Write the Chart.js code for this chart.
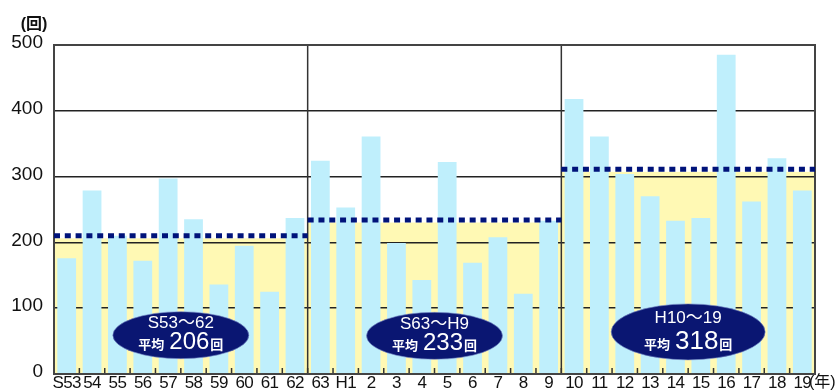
<!DOCTYPE html>
<html>
<head>
<meta charset="utf-8">
<script src="https://cdn.jsdelivr.net/npm/chart.js@4.4.1/dist/chart.umd.min.js"></script>
<style>
  html, body { margin: 0; padding: 0; background: #fff; }
  #wrap { width: 840px; height: 391px; }
</style>
</head>
<body>
<div id="wrap"><canvas id="chart" width="840" height="391"></canvas></div>
<script>
// yearly counts S53..H19 (回)
const years = ["S53", "54", "55", "56", "57", "58", "59", "60", "61", "62",
  "63", "H1", "2", "3", "4", "5", "6", "7", "8", "9",
  "10", "11", "12", "13", "14", "15", "16", "17", "18", "19"];
const counts = [176, 279, 210, 172, 297, 235, 136, 195, 125, 237,
  324, 253, 361, 199, 143, 322, 169, 208, 122, 233,
  418, 361, 304, 270, 233, 237, 485, 262, 328, 279];

// three 10-year periods
const periodNames = ["S53～62", "S63～H9", "H10～19"];
const periodAverages = [206, 233, 318];
const periodStarts = [0, 10, 20];
const periodSize = 10;
const avgLineLevels = [210, 234, 311];   // where the dotted line sits
const badgeLevels = [59, 58, 64];        // badge centre on the y scale

const yMax = 500;
const yStep = 100;

const FONT = "'Liberation Sans', Arial, 'Noto Sans CJK JP', sans-serif";
const NAVY = "#00137a";

const edgesOf = (x, p) => {
  const s = periodStarts[p];
  const half = (x.getPixelForValue(1) - x.getPixelForValue(0)) / 2;
  return [x.getPixelForValue(s) - half, x.getPixelForValue(s + periodSize - 1) + half];
};

const decorPlugin = {
  id: "decor",
  beforeDraw(chart) {
    const { ctx, chartArea: a, scales: { x, y } } = chart;
    ctx.save();
    ctx.fillStyle = "#fff9b4";
    periodStarts.forEach((s, p) => {
      const [l, r] = edgesOf(x, p);
      const top = y.getPixelForValue(avgLineLevels[p]) + 2.5;
      ctx.fillRect(l, top, r - l, a.bottom - top);
    });
    ctx.restore();
  },
  afterDatasetsDraw(chart) {
    const { ctx, chartArea: a, scales: { x, y } } = chart;
    ctx.save();

    // period dividers
    ctx.strokeStyle = "#333";
    ctx.lineWidth = 1.5;
    periodStarts.slice(1).forEach((s, i) => {
      const [l] = edgesOf(x, i + 1);
      ctx.beginPath();
      ctx.moveTo(l, a.top);
      ctx.lineTo(l, a.bottom);
      ctx.stroke();
    });
    // small ticks at category edges
    const half = (x.getPixelForValue(1) - x.getPixelForValue(0)) / 2;
    years.forEach((_, i) => {
      const px = x.getPixelForValue(i) + half;
      ctx.beginPath();
      ctx.moveTo(px, a.bottom);
      ctx.lineTo(px, a.bottom - 6);
      ctx.stroke();
    });
    // frame
    ctx.lineWidth = 2;
    ctx.strokeStyle = "#444";
    ctx.strokeRect(a.left, a.top, a.right - a.left, a.bottom - a.top);

    // dotted average lines
    ctx.strokeStyle = NAVY;
    ctx.lineWidth = 5;
    ctx.setLineDash([6, 4.8]);
    periodStarts.forEach((s, p) => {
      const [l, r] = edgesOf(x, p);
      const py = y.getPixelForValue(avgLineLevels[p]);
      ctx.beginPath();
      ctx.moveTo(l, py);
      ctx.lineTo(r, py);
      ctx.stroke();
    });
    ctx.setLineDash([]);

    // badges
    periodStarts.forEach((s, p) => {
      const cx = (x.getPixelForValue(s + 4) + x.getPixelForValue(s + 5)) / 2;
      const cy = y.getPixelForValue(badgeLevels[p]);
      const rx = p === 2 ? 77 : 68;
      const ry = p === 2 ? 28 : 23.5;
      ctx.beginPath();
      ctx.ellipse(cx, cy, rx, ry, 0, 0, Math.PI * 2);
      ctx.fillStyle = "#0a1672";
      ctx.fill();
      ctx.strokeStyle = "rgba(120,140,200,0.6)";
      ctx.lineWidth = 1;
      ctx.stroke();

      ctx.fillStyle = "#fff";
      ctx.textBaseline = "middle";
      ctx.textAlign = "center";
      ctx.font = "17px " + FONT;
      ctx.fillText(periodNames[p], cx, cy - ry * 0.5);

      const big = p === 2 ? 26 : 24;
      const parts = [
        { t: "平均", f: "bold 13px 'Noto Sans CJK JP', sans-serif", gap: 5 },
        { t: String(periodAverages[p]), f: big + "px " + FONT, gap: 1 },
        { t: "回", f: "bold 13px 'Noto Sans CJK JP', sans-serif", gap: 0 },
      ];
      let total = 0;
      parts.forEach((pt) => {
        ctx.font = pt.f;
        pt.w = ctx.measureText(pt.t).width;
        total += pt.w + pt.gap;
      });
      let px = cx - total / 2;
      const base = cy + ry * 0.6;
      ctx.textAlign = "left";
      ctx.textBaseline = "alphabetic";
      parts.forEach((pt) => {
        ctx.font = pt.f;
        ctx.fillText(pt.t, px, base);
        px += pt.w + pt.gap;
      });
    });

    // x labels, placed by the category scale
    ctx.fillStyle = "#111";
    ctx.textBaseline = "middle";
    ctx.textAlign = "center";
    ctx.font = "17px " + FONT;
    ctx.letterSpacing = "-0.6px";
    years.forEach((lab, i) => {
      ctx.fillText(lab, x.getPixelForValue(i), a.bottom + 9);
    });
    ctx.letterSpacing = "0px";

    // unit labels
    ctx.font = "bold 16px " + FONT;
    ctx.fillText("(回)", 34, 25);
    ctx.textAlign = "left";
    ctx.font = "16px " + FONT;
    ctx.fillText("(年)", 809, a.bottom + 9);
    ctx.restore();
  },
};

new Chart(document.getElementById("chart"), {
  type: "bar",
  data: {
    labels: years,
    datasets: [{
      data: counts,
      backgroundColor: "#bfeffc",
      borderWidth: 0,
      barPercentage: 0.74,
      categoryPercentage: 1,
    }],
  },
  options: {
    responsive: false,
    animation: false,
    devicePixelRatio: 1,
    layout: { padding: { top: 45, right: 25, left: 0, bottom: 17 } },
    plugins: { legend: { display: false }, tooltip: { enabled: false } },
    scales: {
      x: {
        grid: { display: false, drawTicks: false },
        border: { display: false },
        ticks: { display: false },
        afterFit: (s) => { s.height = 0; },
      },
      y: {
        min: 0,
        max: yMax,
        border: { display: false },
        grid: { color: "#222", lineWidth: 1.5, drawTicks: false },
        ticks: {
          stepSize: yStep,
          color: "#111",
          font: { family: FONT, size: 19 },
          padding: 11,
          labelOffset: -2,
        },
        afterFit: (s) => {
          s.width = 54;
          s.paddingTop = 0;
          s.paddingBottom = 0;
        },
      },
    },
  },
  plugins: [decorPlugin],
});
</script>
</body>
</html>
